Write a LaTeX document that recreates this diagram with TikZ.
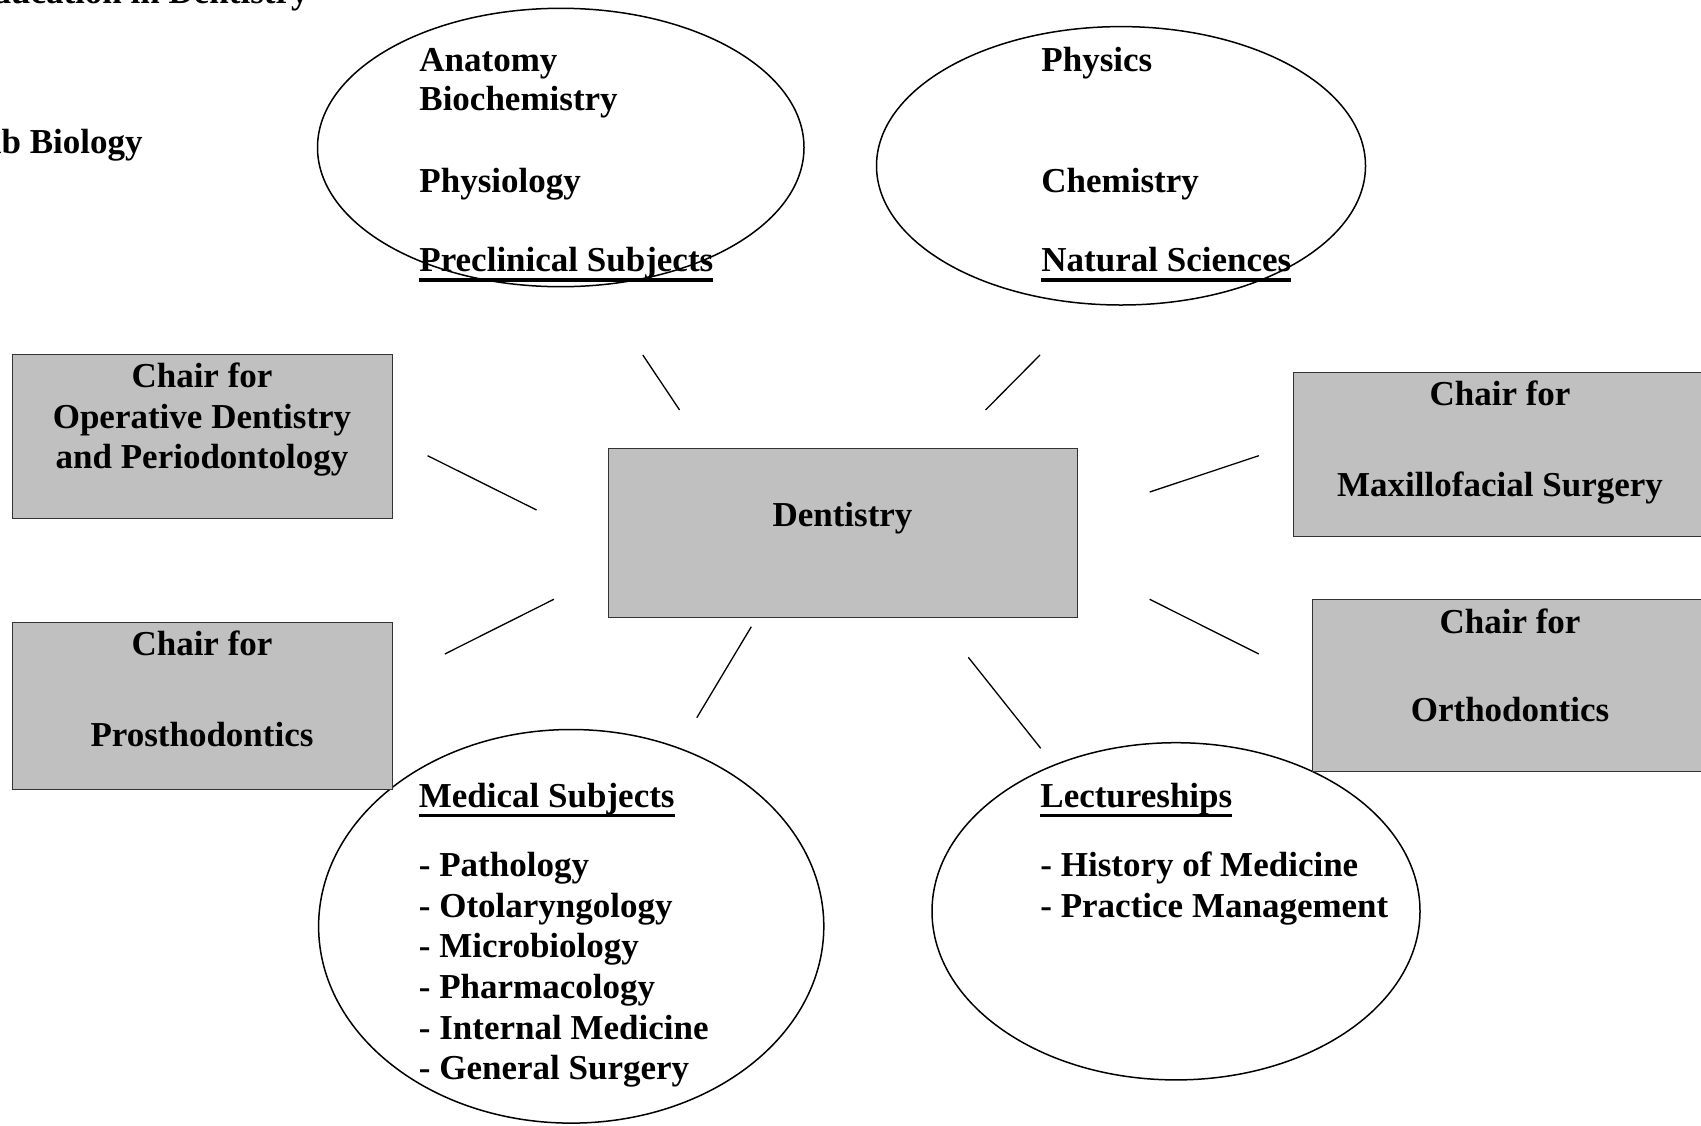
\documentclass[tikz,border=0pt]{standalone}
\usepackage{fontspec}
\setmainfont{Liberation Serif}
\usetikzlibrary{shapes.geometric}
\definecolor{boxgray}{RGB}{192,192,192}
\newcommand{\myul}[1]{\setbox0\hbox{#1}\rlap{\rule[-4.9pt]{\wd0}{1.8pt}}\box0}
\tikzset{
  ell/.style={draw=black, line width=0.75pt, ellipse, inner sep=0pt},
  chairbox/.style={draw=black!80, line width=0.5pt, fill=boxgray, rectangle, inner sep=0pt},
  txt/.style={inner sep=0pt, font=\bfseries\fontsize{17.5pt}{20pt}\selectfont},
  tl/.style={txt, anchor=base west},
  tc/.style={txt, anchor=base},
  conn/.style={draw=black, line width=0.65pt}
}
\begin{document}
\begin{tikzpicture}[x=0.5pt, y=-0.5pt]
\useasboundingbox (0,0) rectangle (1701,1125);
\clip (0,0) rectangle (1701,1125);

% header texts (partly outside the page, as in the reference)
\node[txt, anchor=base east] (title) at (309,3) {Education in Dentistry};
\node[txt, anchor=base east] (labbio) at (143,153) {Lab Biology};

% ellipses
\node[ell, minimum width=243.25pt, minimum height=139.2pt] (pre) at (560.75,147.5) {};
\node[ell, minimum width=244.5pt, minimum height=139.2pt] (nat) at (1121,165.8) {};
\node[ell, minimum width=252.6pt, minimum height=196.8pt] (med) at (571.2,926.3) {};
\node[ell, minimum width=244pt, minimum height=168.6pt] (lec) at (1176,911.3) {};

% boxes
\node[chairbox, minimum width=190pt, minimum height=82pt] (opd) at (202,436.3) {};
\node[chairbox, minimum width=190pt, minimum height=83.3pt] (pro) at (202,706) {};
\node[chairbox, minimum width=207pt, minimum height=82pt] (max) at (1500,454.2) {};
\node[chairbox, minimum width=198pt, minimum height=86pt] (ort) at (1510,685) {};
\node[chairbox, minimum width=234.5pt, minimum height=84.5pt] (den) at (842.5,532.5) {};

% texts in ellipses
\node[tl] (preA) at (419,71.7) {Anatomy};
\node[tl] (preB) at (419,110.5) {Biochemistry};
\node[tl] (preC) at (419,192.7) {Physiology};
\node[tl] (preD) at (419,271.7) {\myul{Preclinical Subjects}};

\node[tl] (natA) at (1041,71.7) {Physics};
\node[tl] (natB) at (1041,192.7) {Chemistry};
\node[tl] (natC) at (1041,271.7) {\myul{Natural Sciences}};

\node[tl] (medA) at (418.5,807.3) {\myul{Medical Subjects}};
\node[tl] (medB) at (418.5,876.7) {- Pathology};
\node[tl] (medC) at (418.5,917.3) {- Otolaryngology};
\node[tl] (medD) at (418.5,957.9) {- Microbiology};
\node[tl] (medE) at (418.5,998.5) {- Pharmacology};
\node[tl] (medF) at (418.5,1039.1) {- Internal Medicine};
\node[tl] (medG) at (418.5,1079.7) {- General Surgery};

\node[tl] (lecA) at (1040,807.3) {\myul{Lectureships}};
\node[tl] (lecB) at (1040,876.7) {- History of Medicine};
\node[tl] (lecC) at (1040,917.3) {- Practice Management};

% texts in boxes
\node[tc] (opdA) at (202,387.7) {Chair for};
\node[tc] (opdB) at (202,428.3) {Operative Dentistry};
\node[tc] (opdC) at (202,468.3) {and Periodontology};
\node[tc] (proA) at (202,655) {Chair for};
\node[tc] (proB) at (202,746.7) {Prosthodontics};
\node[tc] (maxA) at (1500,405) {Chair for};
\node[tc] (maxB) at (1500,496) {Maxillofacial Surgery};
\node[tc] (ortA) at (1510,633.3) {Chair for};
\node[tc] (ortB) at (1510,721.7) {Orthodontics};
\node[tc] (denA) at (842.5,526.7) {Dentistry};

% connector end points
\coordinate (c1a) at (642.8,355);  \coordinate (c1b) at (679.6,410);
\coordinate (c2a) at (1040,355);   \coordinate (c2b) at (985.5,410);
\coordinate (c3a) at (427.6,455.7);\coordinate (c3b) at (536.6,510);
\coordinate (c4a) at (553.8,599.3);\coordinate (c4b) at (444.8,654);
\coordinate (c5a) at (751.3,626.7);\coordinate (c5b) at (696.8,717.7);
\coordinate (c6a) at (968.3,657.3);\coordinate (c6b) at (1040.7,748.3);
\coordinate (c7a) at (1149.7,599.3);\coordinate (c7b) at (1258.8,654);
\coordinate (c8a) at (1149.7,492); \coordinate (c8b) at (1258.8,455.7);

\draw[conn] (c1a) -- (c1b);
\draw[conn] (c2a) -- (c2b);
\draw[conn] (c3a) -- (c3b);
\draw[conn] (c4a) -- (c4b);
\draw[conn] (c5a) -- (c5b);
\draw[conn] (c6a) -- (c6b);
\draw[conn] (c7a) -- (c7b);
\draw[conn] (c8a) -- (c8b);
\end{tikzpicture}
\end{document}
